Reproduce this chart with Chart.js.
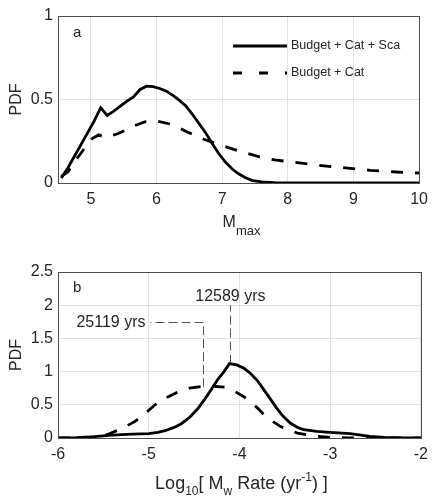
<!DOCTYPE html>
<html lang="en">

<head>
  <meta charset="UTF-8">
  <title>PDF of Mmax and Mw rate</title>
  <script src="https://cdn.jsdelivr.net/npm/chart.js"></script>
  <style>
    body { margin: 0; background: #fff; }
    #wrap { position: relative; width: 435px; height: 497px; font-family: "Liberation Sans", Arial, sans-serif; color: #262626; }
    canvas { position: absolute; left: 0; }
    .xtitle { position: absolute; left: 58px; width: 367px; text-align: center; white-space: nowrap; }
    .xtitle span { position: relative; }
  </style>
</head>

<body>
  <div id="wrap">
    <canvas id="grafA" width="435" height="240" style="top:0"></canvas>
    <canvas id="grafB" width="435" height="257" style="top:240px"></canvas>
    <div class="xtitle" style="top:214px;font-size:16px;line-height:16px">M<span style="font-size:13px;top:8px">max</span></div>
    <div class="xtitle" style="top:474px;font-size:18px;line-height:18px">Log<span style="font-size:12px;top:6px">10</span>[ M<span style="font-size:12px;top:6px">w</span> Rate (yr<span style="font-size:12px;top:-8px">-1</span>) ]</div>
  </div>

<script>
  // painel a : PDF de Mmax
  var mmaxSolid = [4.55, 4.65, 4.75, 4.85, 4.95, 5.05, 5.15, 5.25, 5.35, 5.45, 5.55, 5.65, 5.75, 5.85, 5.95, 6.05, 6.15, 6.25, 6.35, 6.45, 6.55, 6.65, 6.75, 6.85, 6.95, 7.05, 7.15, 7.25, 7.35, 7.45, 7.6, 7.8, 8.0, 8.5, 9.0, 9.5, 10.0];
  var pdfSolidA = [0.03, 0.09, 0.16, 0.23, 0.30, 0.37, 0.45, 0.405, 0.43, 0.46, 0.49, 0.515, 0.56, 0.58, 0.577, 0.566, 0.55, 0.525, 0.495, 0.46, 0.41, 0.355, 0.30, 0.235, 0.175, 0.125, 0.085, 0.055, 0.033, 0.016, 0.006, 0.002, 0, 0, 0, 0, 0];
  var mmaxDashed = [4.55, 4.65, 4.77, 4.9, 5.02, 5.12, 5.22, 5.42, 5.62, 5.82, 6.0, 6.22, 6.47, 6.72, 6.97, 7.27, 7.57, 7.8, 8.1, 8.47, 8.88, 9.26, 9.65, 10.0];
  var pdfDashedA = [0.04, 0.066, 0.136, 0.206, 0.266, 0.288, 0.272, 0.296, 0.336, 0.366, 0.372, 0.352, 0.306, 0.262, 0.228, 0.19, 0.156, 0.138, 0.124, 0.106, 0.09, 0.076, 0.066, 0.06];

  // painel b : PDF da taxa
  var rateSolid = [-6, -5.8, -5.6, -5.44, -5.3, -5.18, -5.0, -4.9, -4.82, -4.72, -4.64, -4.55, -4.46, -4.38, -4.31, -4.24, -4.17, -4.11, -4.03, -3.95, -3.88, -3.8, -3.73, -3.66, -3.59, -3.52, -3.44, -3.36, -3.29, -3.15, -3.0, -2.78, -2.56, -2.4, -2.2, -2.0];
  var pdfSolidB = [0, 0.005, 0.02, 0.04, 0.05, 0.058, 0.065, 0.085, 0.11, 0.16, 0.215, 0.31, 0.44, 0.59, 0.73, 0.88, 1.0, 1.12, 1.1, 1.05, 0.975, 0.86, 0.725, 0.59, 0.45, 0.33, 0.225, 0.16, 0.125, 0.1, 0.085, 0.065, 0.025, 0.01, 0.003, 0];
  var rateDashed = [-6, -5.7, -5.55, -5.46, -5.3, -5.15, -5.04, -4.93, -4.8, -4.67, -4.55, -4.42, -4.3, -4.16, -4.05, -3.96, -3.88, -3.8, -3.73, -3.64, -3.55, -3.45, -3.36, -3.25, -3.15, -3.0, -2.8, -2.5, -2.0];
  var pdfDashedB = [0, 0.003, 0.02, 0.05, 0.14, 0.25, 0.37, 0.5, 0.61, 0.7, 0.75, 0.775, 0.78, 0.765, 0.7, 0.63, 0.55, 0.45, 0.35, 0.255, 0.175, 0.115, 0.075, 0.045, 0.025, 0.01, 0.003, 0, 0];

  var xTicksA = [5, 6, 7, 8, 9, 10];
  var yTicksA = [0, 0.5, 1];
  var xTicksB = [-6, -5, -4, -3, -2];
  var yTicksB = [0, 0.5, 1, 1.5, 2, 2.5];
  var seriesNames = ['Budget + Cat + Sca', 'Budget + Cat'];
  var periods = ['12589 yrs', '25119 yrs']; // 10^4.1 e 10^4.4

  var fonte = '"Liberation Sans", Arial, sans-serif';
  var corTexto = '#262626';

  function pontos(xs, ys) {
    var out = [];
    for (var i = 0; i < xs.length; i++) out.push({ x: xs[i], y: ys[i] });
    return out;
  }

  function escalas(xmin, xmax, xt, ymin, ymax, yt, xh) {
    var grid = { color: '#e3e3e3', lineWidth: 1, drawTicks: false };
    return {
      x: {
        type: 'linear', min: xmin, max: xmax, grid: grid, border: { display: false },
        afterBuildTicks: function (s) { s.ticks = xt.map(function (v) { return { value: v }; }); },
        afterFit: function (s) { s.height = xh; },
        ticks: { color: corTexto, font: { family: fonte, size: 16 }, padding: 7, maxRotation: 0, callback: function (v) { return String(v); } }
      },
      y: {
        min: ymin, max: ymax, grid: grid, border: { display: false },
        afterBuildTicks: function (s) { s.ticks = yt.map(function (v) { return { value: v }; }); },
        afterFit: function (s) { s.width = 58; },
        ticks: { color: corTexto, font: { family: fonte, size: 16 }, padding: 5, callback: function (v) { return String(v); } }
      }
    };
  }

  function linha(ctx, x1, y1, x2, y2) {
    ctx.beginPath(); ctx.moveTo(x1, y1); ctx.lineTo(x2, y2); ctx.stroke();
  }

  // caixa, PDF e letra do painel
  function pluginMolde(letra, letraY) {
    return {
      id: 'molde' + letra,
      afterDraw: function (chart) {
        var ctx = chart.ctx, a = chart.chartArea;
        ctx.save();
        ctx.strokeStyle = '#4d4d4d'; ctx.lineWidth = 1;
        ctx.strokeRect(Math.round(a.left) + 0.5, Math.round(a.top) + 0.5, Math.round(a.right - a.left), Math.round(a.bottom - a.top));
        ctx.fillStyle = corTexto;
        ctx.font = '15px ' + fonte;
        ctx.textAlign = 'left'; ctx.textBaseline = 'alphabetic';
        ctx.fillText(letra, 73, letraY);
        ctx.translate(17, (a.top + a.bottom) / 2);
        ctx.rotate(-Math.PI / 2);
        ctx.font = '16px ' + fonte;
        ctx.textAlign = 'center'; ctx.textBaseline = 'middle';
        ctx.fillText('PDF', 0, 0);
        ctx.restore();
      }
    };
  }

  var legendaA = {
    id: 'legendaA',
    afterDraw: function (chart) {
      var ctx = chart.ctx;
      ctx.save();
      ctx.strokeStyle = '#000'; ctx.lineWidth = 3; ctx.lineCap = 'butt';
      linha(ctx, 233, 46, 287, 46);
      ctx.setLineDash([9, 17]);
      linha(ctx, 233, 73, 287, 73);
      ctx.setLineDash([]);
      ctx.fillStyle = corTexto;
      ctx.font = '12.5px ' + fonte;
      ctx.textAlign = 'left'; ctx.textBaseline = 'middle';
      ctx.fillText(seriesNames[0], 291, 46);
      ctx.fillText(seriesNames[1], 291, 73);
      ctx.restore();
    }
  };

  var anotacaoB = {
    id: 'anotacaoB',
    beforeDatasetsDraw: function (chart) {
      var ctx = chart.ctx, sx = chart.scales.x, sy = chart.scales.y;
      ctx.save();
      ctx.strokeStyle = '#555'; ctx.lineWidth = 1; ctx.setLineDash([9, 4]);
      var x1 = Math.round(sx.getPixelForValue(-4.1)) + 0.5;
      linha(ctx, x1, sy.getPixelForValue(1.12), x1, sy.getPixelForValue(2.0));
      var x2 = Math.round(sx.getPixelForValue(-4.4)) + 0.5;
      var yh = Math.round(sy.getPixelForValue(1.75)) + 0.5;
      linha(ctx, x2, sy.getPixelForValue(0.765), x2, yh);
      linha(ctx, x2, yh, sx.getPixelForValue(-4.98), yh);
      ctx.setLineDash([]);
      ctx.fillStyle = corTexto;
      ctx.font = '16px ' + fonte;
      ctx.textAlign = 'center'; ctx.textBaseline = 'alphabetic';
      ctx.fillText(periods[0], sx.getPixelForValue(-4.1), sy.getPixelForValue(2.0) - 4);
      ctx.textAlign = 'right'; ctx.textBaseline = 'middle';
      ctx.fillText(periods[1], sx.getPixelForValue(-4.98) - 5, yh);
      ctx.restore();
    }
  };

  function conjunto(nome, dados, tracejado) {
    return {
      label: nome, data: dados, borderColor: '#000', borderWidth: 2.8,
      borderDash: tracejado ? [12, 12] : [], borderCapStyle: 'butt',
      pointRadius: 0, tension: 0, fill: false
    };
  }

  Chart.defaults.animation = false;

  new Chart(document.getElementById('grafA').getContext('2d'), {
    type: 'line',
    data: {
      datasets: [
        conjunto(seriesNames[0], pontos(mmaxSolid, pdfSolidA), false),
        conjunto(seriesNames[1], pontos(mmaxDashed, pdfDashedA), true)
      ]
    },
    options: {
      responsive: false,
      layout: { padding: { top: 16, right: 10, left: 0, bottom: 0 } },
      plugins: { legend: { display: false }, tooltip: { enabled: false } },
      scales: escalas(4.5, 10, xTicksA, 0, 1, yTicksA, 57)
    },
    plugins: [pluginMolde('a', 37), legendaA]
  });

  new Chart(document.getElementById('grafB').getContext('2d'), {
    type: 'line',
    data: {
      datasets: [
        conjunto(seriesNames[0], pontos(rateSolid, pdfSolidB), false),
        conjunto(seriesNames[1], pontos(rateDashed, pdfDashedB), true)
      ]
    },
    options: {
      responsive: false,
      layout: { padding: { top: 32, right: 10, left: 0, bottom: 0 } },
      plugins: { legend: { display: false }, tooltip: { enabled: false } },
      scales: escalas(-6, -2, xTicksB, 0, 2.5, yTicksB, 59)
    },
    plugins: [pluginMolde('b', 52), anotacaoB]
  });
</script>
</body>

</html>
